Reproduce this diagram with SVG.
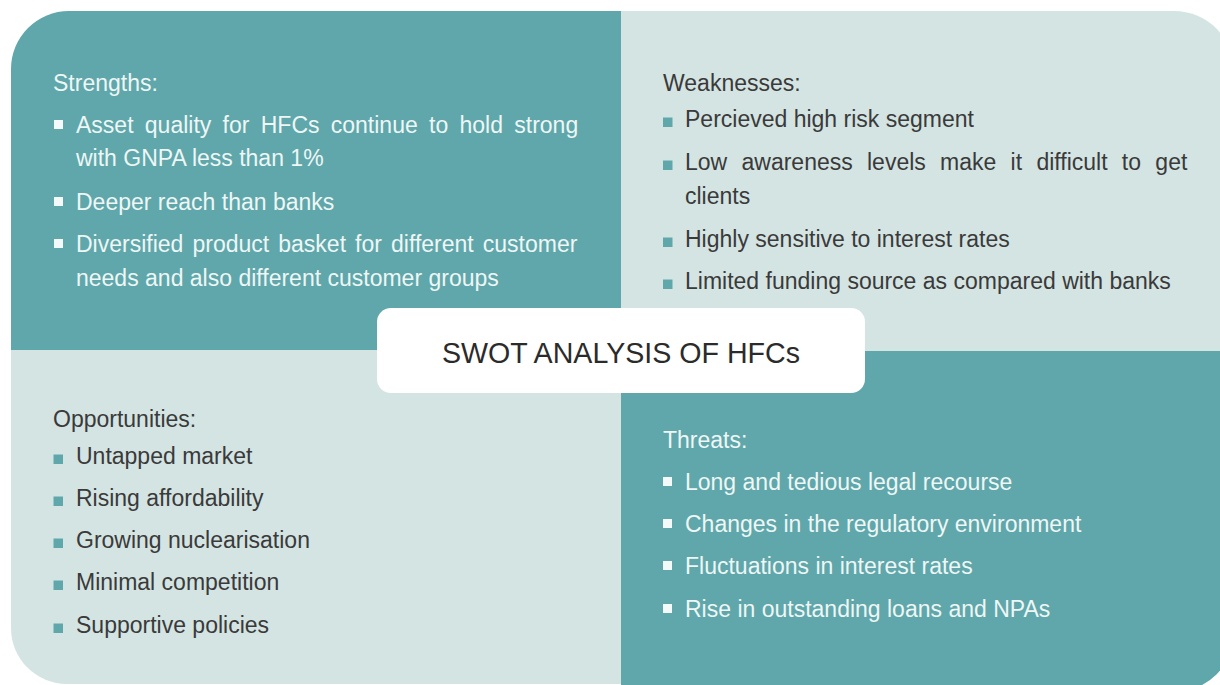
<svg xmlns="http://www.w3.org/2000/svg" width="1220" height="685" viewBox="0 0 1220 685">
  <style>
    .dark { fill: #5fa7aa; }
    .light { fill: #d4e4e3; }
    text { font-family: "Liberation Sans", Arial, sans-serif; font-size: 23px; }
    .onDark { fill: #eef6f6; }
    .onLight { fill: #3a3a3a; }
    .bw { fill: #f4f9f9; }
    .bt { fill: #5fa7aa; }
    .title { font-size: 28.6px; fill: #2b2b2b; text-anchor: middle; }
  </style>
  <rect width="1220" height="685" fill="#ffffff"/>

  <!-- Strengths: top-left quadrant -->
  <g id="strengths">
    <path class="dark" d="M11,350 V69 A58,58 0 0 1 69,11 H621 V350 Z"/>
    <text class="onDark" x="53" y="91">Strengths:</text>
    <rect class="bw" x="54" y="120" width="9" height="9"/>
    <text class="onDark" x="76" y="133" word-spacing="4.9">Asset quality for HFCs continue to hold strong</text>
    <text class="onDark" x="76" y="166">with GNPA less than 1%</text>
    <rect class="bw" x="54" y="197" width="9" height="9"/>
    <text class="onDark" x="76" y="210">Deeper reach than banks</text>
    <rect class="bw" x="54" y="239" width="9" height="9"/>
    <text class="onDark" x="76" y="252" word-spacing="2.7">Diversified product basket for different customer</text>
    <text class="onDark" x="76" y="286">needs and also different customer groups</text>
  </g>

  <!-- Weaknesses: top-right quadrant -->
  <g id="weaknesses">
    <path class="light" d="M621,11 H1174 A60,60 0 0 1 1234,71 V351 H621 Z"/>
    <text class="onLight" x="663" y="91">Weaknesses:</text>
    <rect class="bt" x="663" y="117.5" width="9.5" height="9.5"/>
    <text class="onLight" x="685" y="127">Percieved high risk segment</text>
    <rect class="bt" x="663" y="160.5" width="9.5" height="9.5"/>
    <text class="onLight" x="685" y="170" word-spacing="7.9">Low awareness levels make it difficult to get</text>
    <text class="onLight" x="685" y="204">clients</text>
    <rect class="bt" x="663" y="237.5" width="9.5" height="9.5"/>
    <text class="onLight" x="685" y="247">Highly sensitive to interest rates</text>
    <rect class="bt" x="663" y="279.5" width="9.5" height="9.5"/>
    <text class="onLight" x="685" y="289">Limited funding source as compared with banks</text>
  </g>

  <!-- Opportunities: bottom-left quadrant -->
  <g id="opportunities">
    <path class="light" d="M11,350 H621 V684 H67 A56,56 0 0 1 11,628 Z"/>
    <text class="onLight" x="53" y="427">Opportunities:</text>
    <rect class="bt" x="53.5" y="454.5" width="9.5" height="9.5"/>
    <text class="onLight" x="76" y="464">Untapped market</text>
    <rect class="bt" x="53.5" y="496.5" width="9.5" height="9.5"/>
    <text class="onLight" x="76" y="506">Rising affordability</text>
    <rect class="bt" x="53.5" y="538.5" width="9.5" height="9.5"/>
    <text class="onLight" x="76" y="548">Growing nuclearisation</text>
    <rect class="bt" x="53.5" y="580.5" width="9.5" height="9.5"/>
    <text class="onLight" x="76" y="590">Minimal competition</text>
    <rect class="bt" x="53.5" y="623.5" width="9.5" height="9.5"/>
    <text class="onLight" x="76" y="633">Supportive policies</text>
  </g>

  <!-- Threats: bottom-right quadrant -->
  <g id="threats">
    <path class="dark" d="M621,351 H1234 V632 A60,60 0 0 1 1174,692 H621 Z"/>
    <text class="onDark" x="663" y="448">Threats:</text>
    <rect class="bw" x="663" y="477" width="9" height="9"/>
    <text class="onDark" x="685" y="490">Long and tedious legal recourse</text>
    <rect class="bw" x="663" y="519" width="9" height="9"/>
    <text class="onDark" x="685" y="532">Changes in the regulatory environment</text>
    <rect class="bw" x="663" y="561" width="9" height="9"/>
    <text class="onDark" x="685" y="574">Fluctuations in interest rates</text>
    <rect class="bw" x="663" y="604" width="9" height="9"/>
    <text class="onDark" x="685" y="617">Rise in outstanding loans and NPAs</text>
  </g>

  <!-- Central title box -->
  <g id="title">
    <rect x="377" y="308" width="488" height="85" rx="14" fill="#ffffff"/>
    <text class="title" x="621" y="363">SWOT ANALYSIS OF HFCs</text>
  </g>

  <g id="connectors"/>
</svg>
